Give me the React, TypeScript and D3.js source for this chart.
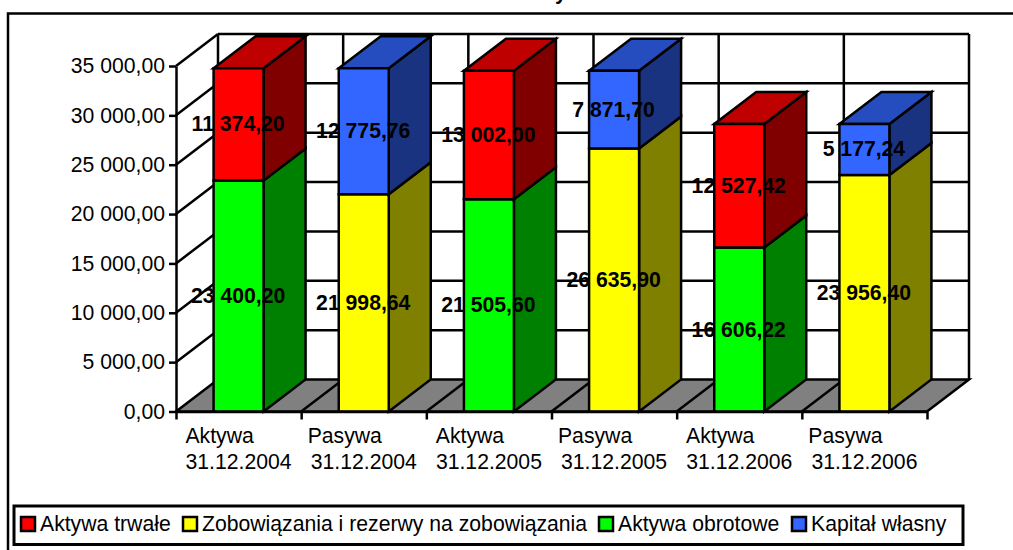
import { useEffect, useRef } from "react";
import * as d3 from "d3";

const categories = ["Aktywa", "Pasywa", "Aktywa", "Pasywa", "Aktywa", "Pasywa"];
const dates = ["31.12.2004", "31.12.2004", "31.12.2005", "31.12.2005", "31.12.2006", "31.12.2006"];

const obrotowe = [23400.2, 0, 21505.6, 0, 16606.22, 0];
const zobowiazania = [0, 21998.64, 0, 26635.9, 0, 23956.4];
const trwale = [11374.2, 0, 13002.0, 0, 12527.42, 0];
const kapital = [0, 12775.76, 0, 7871.7, 0, 5177.24];

const yTicks = [0, 5000, 10000, 15000, 20000, 25000, 30000, 35000];

const legendNames = ["Aktywa trwałe", "Zobowiązania i rezerwy na zobowiązania", "Aktywa obrotowe", "Kapitał własny"];
const legendColors = ["#ff0000", "#ffff00", "#00ff00", "#3366ff"];
const legendX = [21, 183, 599, 792];

const FONT = "'Liberation Sans', Arial, sans-serif";
const FONT_SIZE = "21.2px";
const STROKE = 2.5;

const App = () => {
  const container = useRef<SVGSVGElement>(null);

  useEffect(() => {
    const svg = d3.select(container.current);
    svg.selectAll("*").remove();

    const dx = 42, dy = -32, barWidth = 50;
    const left = 176, right = 927, bottom = 411.5, top = 66;

    const indices = categories.map((d, i) => i);
    const x = d3.scaleBand<number>().domain(indices).range([left, right]);
    const y = d3.scaleLinear().domain([0, 35000]).range([bottom, top]);

    const rows = indices.map((i) => ({
      obrotowe: obrotowe[i],
      zobowiazania: zobowiazania[i],
      trwale: trwale[i],
      kapital: kapital[i],
    }));
    const keys = ["obrotowe", "zobowiazania", "trwale", "kapital"];
    const stacked = d3.stack<any>().keys(keys)(rows);

    const palette: any = {
      obrotowe: { front: "#00ff00", side: "#008000", top: "#00bf00" },
      zobowiazania: { front: "#ffff00", side: "#808000", top: "#bfbf00" },
      trwale: { front: "#ff0000", side: "#800000", top: "#bf0000" },
      kapital: { front: "#3366ff", side: "#1a3380", top: "#264dbf" },
    };

    const line = (g: any, x1: number, y1: number, x2: number, y2: number) =>
      g.append("line")
        .attr("x1", x1).attr("y1", y1).attr("x2", x2).attr("y2", y2)
        .attr("stroke", "#000").attr("stroke-width", STROKE);

    const poly = (g: any, pts: number[][], fill: string) =>
      g.append("polygon")
        .attr("points", pts.map((p) => p.join(",")).join(" "))
        .attr("fill", fill)
        .attr("stroke", "#000")
        .attr("stroke-width", STROKE)
        .attr("stroke-linejoin", "miter");

    // outer frame, runs off the page on the right and at the bottom
    svg.append("rect")
      .attr("x", 8).attr("y", 13.5).attr("width", 1100).attr("height", 600)
      .attr("fill", "#fff").attr("stroke", "#000").attr("stroke-width", STROKE);

    // only the descender of the title is left in the picture
    svg.append("text")
      .attr("x", 555).attr("y", -1)
      .style("font-family", FONT).style("font-size", FONT_SIZE).style("font-weight", "bold")
      .text("y");

    const grid = svg.append("g");

    // floor
    poly(grid, [[left, bottom], [right, bottom], [right + dx, bottom + dy], [left + dx, bottom + dy]], "#808080");
    indices.slice(1).forEach((i) => {
      line(grid, x(i)!, bottom, x(i)! + dx, bottom + dy);
    });

    // back wall and side wall
    yTicks.slice(1).forEach((t) => {
      line(grid, left, y(t), left + dx, y(t) + dy);
      line(grid, left + dx, y(t) + dy, right + dx, y(t) + dy);
    });
    indices.forEach((i) => {
      line(grid, x(i)! + dx, top + dy, x(i)! + dx, bottom + dy);
    });
    line(grid, right + dx, top + dy, right + dx, bottom + dy);

    // bars
    const bars = svg.append("g");
    indices.forEach((i) => {
      const x0 = x(i)! + (x.bandwidth() - barWidth) / 2;
      const x1 = x0 + barWidth;
      const present = stacked.filter((s) => s[i][1] > s[i][0]);
      present.forEach((s, n) => {
        const yLow = y(s[i][0]);
        const yHigh = y(s[i][1]);
        const c = palette[s.key];
        poly(bars, [[x1, yLow], [x1 + dx, yLow + dy], [x1 + dx, yHigh + dy], [x1, yHigh]], c.side);
        if (n === present.length - 1) {
          poly(bars, [[x0, yHigh], [x1, yHigh], [x1 + dx, yHigh + dy], [x0 + dx, yHigh + dy]], c.top);
        }
        poly(bars, [[x0, yLow], [x1, yLow], [x1, yHigh], [x0, yHigh]], c.front);
      });
    });

    const locale = d3.formatLocale({ decimal: ",", thousands: " ", grouping: [3], currency: ["", ""] });
    const fmt = locale.format(",.2f");

    // value labels
    const labels = svg.append("g");
    stacked.forEach((s) => {
      indices.filter((i) => s[i][1] > s[i][0]).forEach((i) => {
        labels.append("text")
          .attr("x", x(i)! + x.bandwidth() / 2 - 0.5)
          .attr("y", y((s[i][0] + s[i][1]) / 2) + 7)
          .attr("text-anchor", "middle")
          .style("font-family", FONT)
          .style("font-size", FONT_SIZE)
          .style("font-weight", "bold")
          .text(fmt(s[i][1] - s[i][0]));
      });
    });

    // axes
    const yAxis = svg.append("g")
      .attr("transform", `translate(${left},0)`)
      .call(d3.axisLeft(y).tickValues(yTicks).tickSize(7).tickPadding(4).tickSizeOuter(0).tickFormat((d) => fmt(d as number)));
    const xAxis = svg.append("g")
      .attr("transform", `translate(0,${bottom})`)
      .call(d3.axisBottom(d3.scalePoint<number>().domain([...indices, 6]).range([left, right]))
        .tickSize(8).tickSizeOuter(0).tickFormat(() => ""));
    [yAxis, xAxis].forEach((a) => {
      a.selectAll("path, line").attr("stroke", "#000").attr("stroke-width", STROKE);
    });
    yAxis.selectAll("text")
      .style("font-family", FONT).style("font-size", FONT_SIZE).attr("fill", "#000");

    // category labels, the first line sits left of centre in the original
    const catLabels = svg.append("g")
      .attr("text-anchor", "middle")
      .style("font-family", FONT)
      .style("font-size", FONT_SIZE);
    indices.forEach((i) => {
      const cx = x(i)! + x.bandwidth() / 2;
      catLabels.append("text").attr("x", cx - 19).attr("y", 443).text(categories[i]);
      catLabels.append("text").attr("x", cx).attr("y", 469).text(dates[i]);
    });

    // legend
    const legend = svg.append("g");
    legend.append("rect")
      .attr("x", 14).attr("y", 506).attr("width", 949).attr("height", 38.5)
      .attr("fill", "#fff").attr("stroke", "#000").attr("stroke-width", 3);
    legendNames.forEach((name, i) => {
      legend.append("rect")
        .attr("x", legendX[i]).attr("y", 517).attr("width", 14).attr("height", 14)
        .attr("fill", legendColors[i]).attr("stroke", "#000").attr("stroke-width", STROKE);
      legend.append("text")
        .attr("x", legendX[i] + 19).attr("y", 531)
        .style("font-family", FONT).style("font-size", FONT_SIZE)
        .text(name);
    });
  }, []);

  return (
    <svg
      ref={container}
      width={1013}
      height={550}
      style={{ position: "absolute", left: 0, top: 0, background: "#fff" }}
    />
  );
};

export default App;
